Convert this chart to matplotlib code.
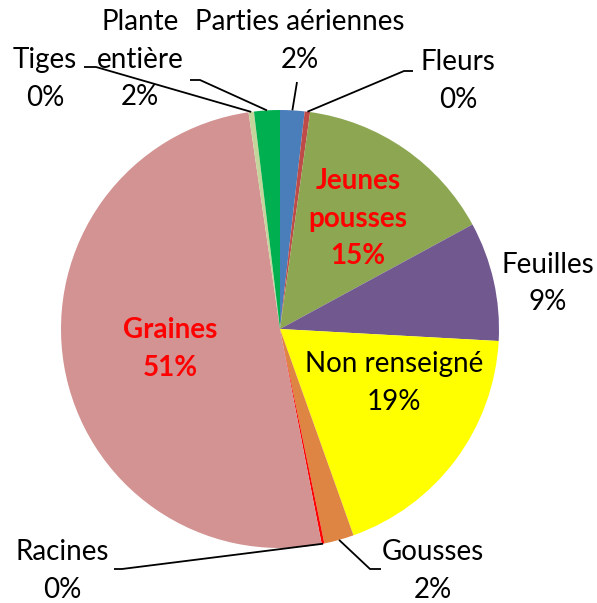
import numpy as np
import matplotlib.pyplot as plt

# Données
labels = ['Parties aériennes', 'Fleurs', 'Jeunes\npousses', 'Feuilles', 'Non renseigné',
          'Gousses', 'Racines', 'Graines', 'Tiges', 'Plante\nentière']
values = [1.8, 0.4, 14.9, 8.8, 18.7, 2.2, 0.2, 50.8, 0.4, 1.9]
pct_text = ['2%', '0%', '15%', '9%', '19%', '2%', '0%', '51%', '0%', '2%']
colors = ['#4A7EBB', '#BE4B48', '#8CA652', '#715990', '#FFFF00',
          '#DE8544', '#FF0000', '#D29392', '#C4D59C', '#00B050']

W, H = 597, 603
fig = plt.figure(figsize=(W / 100, H / 100), dpi=100)
ax = fig.add_axes([0, 0, 1, 1])

cx, cy, R = 280, H - 329, 219
wedges, _ = ax.pie(values, colors=colors, startangle=90, counterclock=False,
                   center=(cx, cy), radius=R, frame=True,
                   wedgeprops=dict(linewidth=0))
ax.set_xlim(0, W)
ax.set_ylim(0, H)
ax.set_aspect('equal')
ax.axis('off')

plt.rcParams['font.family'] = ['Lato', 'DejaVu Sans']
fs = 20

def Y(p):
    return H - p

# étiquettes (centre en pixels, y depuis le haut) et coudes des lignes de rappel
layout = {
    'Parties aériennes': ((300, 22), [(297, 82)]),
    'Fleurs': ((458, 62), [(404, 71), (413, 71)]),
    'Jeunes\npousses': ((358, 181), None),
    'Feuilles': ((548, 265), None),
    'Non renseigné': ((394, 364), None),
    'Gousses': ((433, 552), [(370, 569), (381, 569)]),
    'Racines': ((62, 552), [(122, 569), (114, 569)]),
    'Graines': ((170, 330), None),
    'Tiges': ((45, 60), [(96, 67), (84, 67)]),
    'Plante\nentière': ((140, 22), [(200, 80), (190, 80)]),
}

for w, lab, pct in zip(wedges, labels, pct_text):
    (tx, ty), pts = layout[lab]
    red = lab in ('Jeunes\npousses', 'Graines')
    lines = lab.split('\n') + [pct]
    for i, s in enumerate(lines):
        ax.text(tx, Y(ty + i * 37.5), s, ha='center', va='center', fontsize=fs,
                color='#FF0000' if red else 'black',
                fontweight='bold' if red else 'normal')
    if pts:
        ang = np.deg2rad((w.theta1 + w.theta2) / 2)
        x0 = cx + R * np.cos(ang)
        y0 = cy + R * np.sin(ang)
        xs = [x0] + [p[0] for p in pts]
        ys = [y0] + [Y(p[1]) for p in pts]
        ax.plot(xs, ys, color='black', lw=1.3, solid_capstyle='butt')

fig.savefig('out.png', dpi=100)
